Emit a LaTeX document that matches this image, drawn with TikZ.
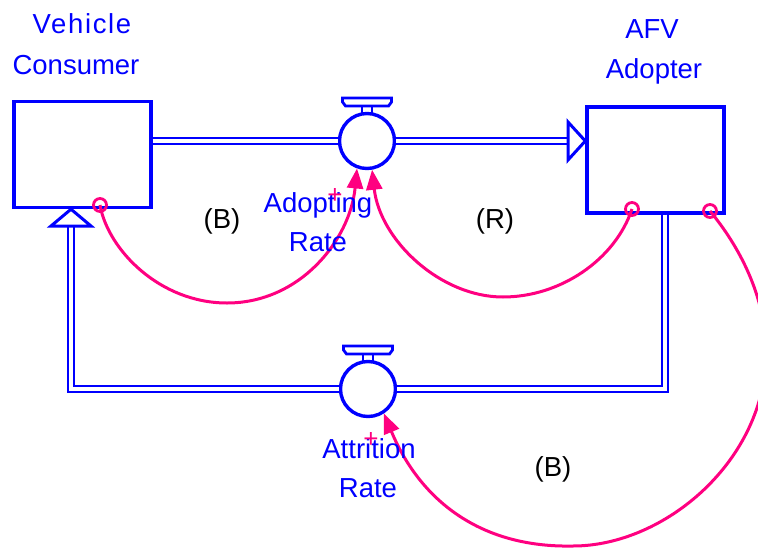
\documentclass[tikz,border=0pt]{standalone}
\usepackage{fontspec}
\setmainfont{Liberation Sans}
\usetikzlibrary{arrows.meta,calc}
\definecolor{lnk}{HTML}{FF0080}
\definecolor{sf}{RGB}{0,0,255}
\begin{document}
\begin{tikzpicture}[x=1pt,y=-1pt,
  stock/.style={draw=sf,line width=3.4pt,minimum width=137pt,minimum height=106pt,inner sep=0pt},
  valve/.style={circle,draw=sf,fill=white,line width=3.4pt,minimum size=55pt,inner sep=0pt},
  pipe/.style={draw=sf,line width=2.8pt,double=white,double distance=3.2pt,line join=miter},
  lbl/.style={text=sf,font=\fontsize{27.5}{30}\selectfont,anchor=base,inner sep=0pt},
  looplbl/.style={text=black,font=\fontsize{27.5}{30}\selectfont,anchor=base,inner sep=0pt},
  link/.style={draw=lnk,line width=3pt,-{Triangle[length=20pt,width=16pt]}},
  src/.style={circle,draw=lnk,line width=2.8pt,minimum size=13pt,inner sep=0pt},
  plus/.style={text=lnk,font=\fontsize{26}{26}\selectfont,inner sep=0pt},
  flowhead/.style={draw=sf,fill=white,line width=3pt,line join=miter},
  handle/.pic={
    \draw[draw=sf,line width=2.8pt] (-5,-27) -- (-5,-35) (5,-35) -- (5,-27);
    \draw[draw=sf,fill=white,line width=2.8pt,line join=miter]
      (-24.5,-43) -- (24.5,-43) -- (24.5,-39) -- (21.5,-35) -- (-21.5,-35) -- (-24.5,-39) -- cycle;
  }
]
\useasboundingbox (0,0) rectangle (758,549);

% stocks
\node[stock] (vc) at (82.5,154.5) {};
\node[stock] (afv) at (655.5,160) {};

% flow coordinates
\coordinate (h1) at (568,141);
\coordinate (p1) at (665,389);
\coordinate (h2) at (71,226);

% valves
\pic at (367,141) {handle};
\pic at (368,389) {handle};
\node[valve] (v1) at (367,141) {};
\node[valve] (v2) at (368,389) {};

% pipes
\draw[pipe] (vc.east |- v1.center) -- (v1.west);
\draw[pipe] (v1.east) -- (h1);
\draw[flowhead] ($(h1)+(0,-19)$) -- (afv.west |- h1) -- ($(h1)+(0,19)$) -- cycle;

\draw[pipe] (afv.south -| p1) -- (p1) -- (v2.east);
\draw[pipe] (v2.west) -- (h2 |- v2.center) -- (h2);
\draw[flowhead] ($(h2)+(-20,0)$) -- (vc.south -| h2) -- ($(h2)+(20,0)$) -- cycle;

% link sources
\node[src] (s1) at (100,205) {};
\node[src] (s2) at (632,209) {};
\node[src] (s3) at (710,211) {};

% links
\draw[link] (s1.center) .. controls (108,250) and (160,303) .. (227,303)
  .. controls (300,303) and (350,240) .. (v1.-110);
\draw[link] (s2.center) .. controls (615,260) and (560,297) .. (503,297)
  .. controls (440,297) and (380,240) .. (v1.-80);
\draw[link] (s3.center) .. controls (738,245) and (766,295) .. (766,353)
  .. controls (766,460) and (665,546) .. (573,546)
  .. controls (480,548) and (420,500) .. (v2.-57);

% labels
\node[lbl] (tvc1) at (82,33) {\addfontfeature{LetterSpace=6}Vehicle};
\node[lbl] (tvc2) at (76,74) {Consumer};
\node[lbl] (tafv1) at (652,38) {AFV};
\node[lbl] (tafv2) at (654,78) {Adopter};
\node[lbl] (tad1) at (318,212) {Adopting};
\node[lbl] (tad2) at (318,251) {Rate};
\node[lbl] (tat1) at (369,458) {Attrition};
\node[lbl] (tat2) at (368,497) {Rate};

\node[looplbl] (lb1) at (222,228) {(B)};
\node[looplbl] (lr) at (495,228) {(R)};
\node[looplbl] (lb2) at (553,476) {(B)};

\node[plus] (pl1) at (335,196) {+};
\node[plus] (pl2) at (371,440) {+};
\end{tikzpicture}
\end{document}
